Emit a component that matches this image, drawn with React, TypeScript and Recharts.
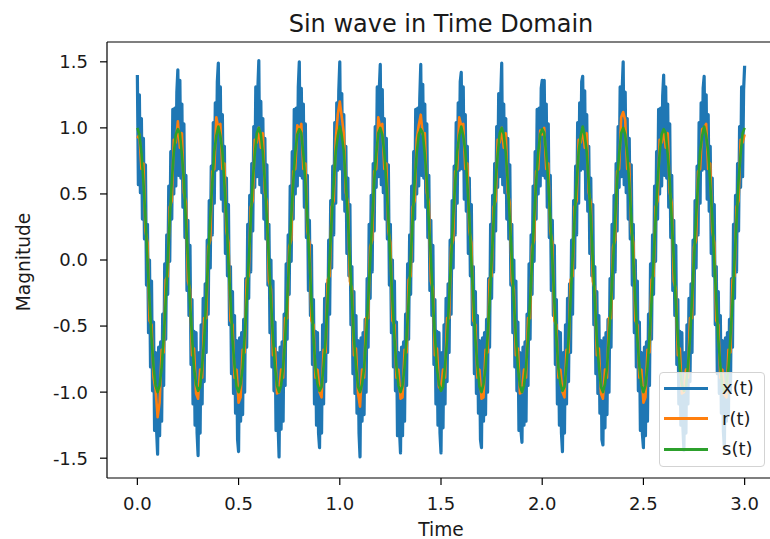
import { Legend, Line, LineChart, ReferenceLine, XAxis, YAxis } from 'recharts';

const FONT = '"DejaVu Sans", sans-serif';
const xTicks = [0, 0.5, 1, 1.5, 2, 2.5, 3];
const yTicks = [-1.5, -1, -0.5, 0, 0.5, 1, 1.5];
const xStep = 0.005;
const rsStep = 0.01;

// x(t): noisy measurement, one row per 0.2 s period (0.005 s samples)
const xSignal = [
  1.40, .57, 1.25, .51, 1.07, .31, .92, .16, .72, -.19, .27, -.55, .00, -.81, -.16, -.99, -.47, -1.29, -.70, -1.29, -1.47, -.66, -1.33, -.62, -1.22, -.41, -.95, -.03, -.60, .19, -.26, .56, -.01, .82, .31, 1.14, .50, 1.15, .56, 1.27,
  1.44, .64, 1.36, .62, 1.18, .40, 1.03, .17, .64, -.23, .30, -.42, .11, -.79, -.30, -1.09, -.54, -1.25, -.55, -1.31, -1.48, -.70, -1.31, -.49, -1.09, -.29, -.92, -.18, -.70, .15, -.41, .45, -.06, .71, .19, 1.04, .43, 1.19, .68, 1.35,
  1.49, .69, 1.31, .46, 1.10, .37, .86, .05, .62, -.12, .42, -.49, -.05, -.86, -.24, -1.01, -.42, -1.16, -.61, -1.36, -1.45, -.59, -1.22, -.55, -1.17, -.45, -1.00, -.14, -.66, .27, -.29, .49, -.09, .73, .22, 1.01, .55, 1.31, .63, 1.29,
  1.51, .57, 1.20, .51, 1.07, .31, .92, .16, .72, -.19, .27, -.55, .00, -.81, -.16, -.99, -.47, -1.29, -.70, -1.24, -1.49, -.66, -1.28, -.62, -1.22, -.41, -.95, -.03, -.60, .19, -.26, .56, -.01, .82, .31, 1.14, .50, 1.15, .56, 1.31,
  1.50, .64, 1.30, .62, 1.18, .40, 1.03, .17, .64, -.23, .30, -.42, .11, -.79, -.30, -1.09, -.54, -1.25, -.55, -1.31, -1.42, -.70, -1.31, -.49, -1.09, -.29, -.92, -.18, -.70, .15, -.41, .45, -.06, .71, .19, 1.04, .43, 1.19, .68, 1.28,
  1.50, .69, 1.26, .46, 1.10, .37, .86, .05, .62, -.12, .42, -.49, -.05, -.86, -.24, -1.01, -.42, -1.16, -.61, -1.31, -1.49, -.59, -1.22, -.55, -1.17, -.45, -1.00, -.14, -.66, .27, -.29, .49, -.09, .73, .22, 1.01, .55, 1.31, .63, 1.29,
  1.48, .57, 1.29, .51, 1.07, .31, .92, .16, .72, -.19, .27, -.55, .00, -.81, -.16, -.99, -.47, -1.33, -.70, -1.29, -1.46, -.66, -1.33, -.62, -1.22, -.41, -.95, -.03, -.60, .19, -.26, .56, -.01, .82, .31, 1.14, .50, 1.15, .56, 1.22,
  1.48, .64, 1.33, .62, 1.18, .40, 1.03, .17, .64, -.23, .30, -.42, .11, -.79, -.30, -1.09, -.54, -1.25, -.55, -1.31, -1.46, -.70, -1.27, -.49, -1.09, -.29, -.92, -.18, -.70, .15, -.41, .45, -.06, .71, .19, 1.04, .43, 1.19, .68, 1.35,
  1.42, .69, 1.31, .46, 1.10, .37, .86, .05, .62, -.12, .42, -.49, -.05, -.86, -.24, -1.01, -.42, -1.16, -.61, -1.36, -1.42, -.59, -1.22, -.55, -1.17, -.45, -1.00, -.14, -.66, .27, -.29, .49, -.09, .73, .22, 1.01, .55, 1.26, .63, 1.24,
  1.49, .57, 1.18, .51, 1.07, .31, .92, .16, .72, -.19, .27, -.55, .00, -.81, -.16, -.99, -.47, -1.29, -.70, -1.29, -1.38, -.66, -1.25, -.62, -1.22, -.41, -.95, -.03, -.60, .19, -.26, .56, -.01, .82, .31, 1.14, .50, 1.15, .56, 1.30,
  1.36, .64, 1.36, .62, 1.18, .40, 1.03, .17, .64, -.23, .30, -.42, .11, -.79, -.30, -1.09, -.54, -1.25, -.55, -1.31, -1.45, -.70, -1.31, -.49, -1.09, -.29, -.92, -.18, -.70, .15, -.41, .45, -.06, .71, .19, 1.04, .43, 1.19, .68, 1.35,
  1.39, .69, 1.28, .46, 1.10, .37, .86, .05, .62, -.12, .42, -.49, -.05, -.86, -.24, -1.01, -.42, -1.16, -.61, -1.36, -1.40, -.59, -1.27, -.55, -1.17, -.45, -1.00, -.14, -.66, .27, -.29, .49, -.09, .73, .22, 1.01, .55, 1.31, .63, 1.29,
  1.50, .57, 1.27, .51, 1.07, .31, .92, .16, .72, -.19, .27, -.55, .00, -.81, -.16, -.99, -.47, -1.29, -.70, -1.32, -1.42, -.66, -1.33, -.62, -1.22, -.41, -.95, -.03, -.60, .19, -.26, .56, -.01, .82, .31, 1.14, .50, 1.15, .56, 1.24,
  1.40, .64, 1.31, .62, 1.18, .40, 1.03, .17, .64, -.23, .30, -.42, .11, -.79, -.30, -1.09, -.54, -1.25, -.55, -1.27, -1.44, -.70, -1.31, -.49, -1.09, -.29, -.92, -.18, -.70, .15, -.41, .45, -.06, .71, .19, 1.04, .43, 1.19, .68, 1.30,
  1.39, .69, 1.25, .46, 1.10, .37, .86, .05, .62, -.12, .42, -.49, -.05, -.86, -.24, -1.01, -.42, -1.16, -.61, -1.30, -1.42, -.59, -1.22, -.55, -1.17, -.45, -1.00, -.14, -.66, .27, -.29, .49, -.09, .73, .22, 1.01, .55, 1.31, .63, 1.29,
  1.47,
];

// r(t): recovered signal (0.01 s samples)
const rSignal = [
  .92, .95, .69, .73, .22, .13, -.46, -.49, -.89, -.98, -1.19, -1.08, -.68, -.70, -.15, -.12, .40, .45, .91, .89,
  1.05, .85, .96, .51, .43, -.16, -.22, -.72, -.67, -1.01, -1.05, -.83, -.89, -.44, -.44, .10, .15, .67, .69, 1.08,
  1.00, 1.03, .69, .73, .22, .13, -.46, -.49, -.89, -.83, -1.08, -1.04, -.68, -.70, -.15, -.12, .40, .45, .91, .89,
  1.00, .85, .96, .51, .43, -.16, -.22, -.72, -.67, -1.01, -1.00, -.83, -.89, -.44, -.44, .10, .15, .67, .69, 1.02,
  .98, 1.03, .69, .73, .22, .13, -.46, -.49, -.89, -.83, -1.00, -1.04, -.68, -.70, -.15, -.12, .40, .45, .91, 1.10,
  1.20, 1.08, .96, .51, .43, -.16, -.22, -.72, -.67, -1.01, -1.11, -.83, -.89, -.44, -.44, .10, .15, .67, .69, 1.08,
  1.00, 1.03, .69, .73, .22, .13, -.46, -.49, -.89, -.83, -1.05, -1.04, -.68, -.70, -.15, -.12, .40, .45, .91, 1.02,
  1.10, .95, .96, .51, .43, -.16, -.22, -.72, -.67, -.96, -.98, -.83, -.89, -.44, -.44, .10, .15, .67, .69, 1.08,
  1.02, 1.03, .69, .73, .22, .13, -.46, -.49, -.89, -.83, -1.05, -1.04, -.68, -.70, -.15, -.12, .40, .45, .91, .89,
  1.00, .85, .96, .51, .43, -.16, -.22, -.72, -.67, -1.01, -1.00, -.83, -.89, -.44, -.44, .10, .15, .67, .69, .98,
  .95, 1.00, .69, .73, .22, .13, -.46, -.49, -.89, -.83, -1.00, -1.04, -.68, -.70, -.15, -.12, .40, .45, .91, .89,
  1.00, .85, .96, .51, .43, -.16, -.22, -.72, -.67, -1.01, -1.05, -.83, -.89, -.44, -.44, .10, .15, .67, .69, 1.08,
  1.12, 1.06, .69, .73, .22, .13, -.46, -.49, -.89, -.83, -1.08, -1.04, -.68, -.70, -.15, -.12, .40, .45, .91, .89,
  .98, .85, .96, .51, .43, -.16, -.22, -.72, -.67, -1.01, -1.00, -.83, -.89, -.44, -.44, .10, .15, .67, .69, .99,
  1.00, 1.03, .69, .73, .22, .13, -.46, -.49, -.89, -.83, -1.02, -1.04, -.68, -.70, -.15, -.12, .40, .45, .91, .89,
  .95,
];

// s(t): clean signal (0.01 s samples)
const sSignal = [
  1.00, .95, .81, .59, .31, .00, -.31, -.59, -.81, -.95, -1.00, -.95, -.81, -.59, -.31, .00, .31, .59, .81, .95,
  .99, .96, .80, .60, .30, .01, -.32, -.58, -.82, -.94, -.99, -.96, -.80, -.60, -.30, .01, .32, .58, .82, .94,
  1.01, .94, .82, .58, .32, -.01, -.30, -.60, -.80, -.96, -1.00, -.94, -.82, -.58, -.32, -.01, .30, .60, .80, .96,
  1.00, .95, .81, .59, .31, .00, -.31, -.59, -.81, -.95, -1.00, -.95, -.81, -.59, -.31, .00, .31, .59, .81, .95,
  .99, .96, .80, .60, .30, .01, -.32, -.58, -.82, -.94, -.99, -.96, -.80, -.60, -.30, .01, .32, .58, .82, .94,
  1.01, .94, .82, .58, .32, -.01, -.30, -.60, -.80, -.96, -1.00, -.94, -.82, -.58, -.32, -.01, .30, .60, .80, .96,
  1.00, .95, .81, .59, .31, .00, -.31, -.59, -.81, -.95, -1.00, -.95, -.81, -.59, -.31, .00, .31, .59, .81, .95,
  .99, .96, .80, .60, .30, .01, -.32, -.58, -.82, -.94, -.99, -.96, -.80, -.60, -.30, .01, .32, .58, .82, .94,
  1.01, .94, .82, .58, .32, -.01, -.30, -.60, -.80, -.96, -1.00, -.94, -.82, -.58, -.32, -.01, .30, .60, .80, .96,
  1.00, .95, .81, .59, .31, .00, -.31, -.59, -.81, -.95, -1.00, -.95, -.81, -.59, -.31, .00, .31, .59, .81, .95,
  .99, .96, .80, .60, .30, .01, -.32, -.58, -.82, -.94, -.99, -.96, -.80, -.60, -.30, .01, .32, .58, .82, .94,
  1.01, .94, .82, .58, .32, -.01, -.30, -.60, -.80, -.96, -1.00, -.94, -.82, -.58, -.32, -.01, .30, .60, .80, .96,
  1.00, .95, .81, .59, .31, .00, -.31, -.59, -.81, -.95, -1.00, -.95, -.81, -.59, -.31, .00, .31, .59, .81, .95,
  .99, .96, .80, .60, .30, .01, -.32, -.58, -.82, -.94, -.99, -.96, -.80, -.60, -.30, .01, .32, .58, .82, .94,
  1.01, .94, .82, .58, .32, -.01, -.30, -.60, -.80, -.96, -1.00, -.94, -.82, -.58, -.32, -.01, .30, .60, .80, .96,
  1.00,
];

const toRows = (values: number[], step: number) =>
  values.map((v, i) => ({ t: Number((i * step).toFixed(3)), v }));

const series = [
  { key: 'x', name: 'x(t)', color: '#1f77b4', width: 3.2, rows: toRows(xSignal, xStep) },
  { key: 'r', name: 'r(t)', color: '#ff7f0e', width: 2.6, rows: toRows(rSignal, rsStep) },
  { key: 's', name: 's(t)', color: '#2ca02c', width: 2.6, rows: toRows(sSignal, rsStep) },
];

const tickStyle = { fill: '#1a1a1a', fontSize: 18, fontFamily: FONT };

function LegendBox() {
  return (
    <div
      style={{
        width: 106,
        height: 95,
        boxSizing: 'border-box',
        background: 'rgba(255,255,255,0.8)',
        border: '1px solid #d3d3d3',
        borderRadius: 4,
        fontFamily: FONT,
        fontSize: 18,
        color: '#1a1a1a',
      }}
    >
      {series.map((s) => (
        <div key={s.key} style={{ display: 'flex', alignItems: 'center', height: 30.5 }}>
          <span style={{ marginLeft: 4, width: 44, height: 3, background: s.color }} />
          <span style={{ marginLeft: 14, lineHeight: 1 }}>{s.name}</span>
        </div>
      ))}
    </div>
  );
}

export default function App() {
  return (
    <div
      style={{
        position: 'fixed',
        left: 0,
        top: 0,
        width: 770,
        height: 539,
        overflow: 'hidden',
        background: '#fff',
      }}
    >
      <LineChart width={790} height={539} margin={{ top: 42, right: 15, bottom: 31, left: 47 }}>
        <XAxis
          dataKey="t"
          type="number"
          domain={[-0.15, 3.15]}
          ticks={xTicks}
          tickFormatter={(v: number) => v.toFixed(1)}
          allowDataOverflow
          height={30}
          tick={tickStyle}
          tickSize={7}
          tickMargin={12}
          axisLine={{ stroke: '#000', strokeWidth: 1.2 }}
          tickLine={{ stroke: '#000', strokeWidth: 1.2 }}
        />
        <YAxis
          type="number"
          domain={[-1.65, 1.65]}
          ticks={yTicks}
          tickFormatter={(v: number) => v.toFixed(1)}
          allowDataOverflow
          width={60}
          tick={tickStyle}
          tickSize={7}
          tickMargin={12}
          axisLine={{ stroke: '#000', strokeWidth: 1.2 }}
          tickLine={{ stroke: '#000', strokeWidth: 1.2 }}
        />
        <ReferenceLine y={1.65} stroke="#000" strokeWidth={1.2} ifOverflow="visible" />
        {series.map((s) => (
          <Line
            key={s.key}
            data={s.rows}
            type="linear"
            dataKey="v"
            name={s.name}
            stroke={s.color}
            strokeWidth={s.width}
            strokeLinejoin="round"
            dot={false}
            activeDot={false}
            isAnimationActive={false}
          />
        ))}
        <Legend
          layout="vertical"
          align="center"
          verticalAlign="middle"
          wrapperStyle={{ left: 659, top: 372, width: 'auto', height: 'auto' }}
          content={() => <LegendBox />}
        />
      </LineChart>
      <div
        style={{
          position: 'absolute',
          left: 441,
          top: 12,
          transform: 'translateX(-50%)',
          fontFamily: FONT,
          fontSize: 24,
          lineHeight: 1,
          whiteSpace: 'nowrap',
          color: '#1a1a1a',
        }}
      >
        Sin wave in Time Domain
      </div>
      <div
        style={{
          position: 'absolute',
          left: 441,
          top: 521,
          transform: 'translateX(-50%)',
          fontFamily: FONT,
          fontSize: 18.6,
          lineHeight: 1,
          whiteSpace: 'nowrap',
          color: '#1a1a1a',
        }}
      >
        Time
      </div>
      <div
        style={{
          position: 'absolute',
          left: 24,
          top: 262,
          transform: 'translate(-50%, -50%) rotate(-90deg)',
          fontFamily: FONT,
          fontSize: 18.6,
          lineHeight: 1,
          whiteSpace: 'nowrap',
          color: '#1a1a1a',
        }}
      >
        Magnitude
      </div>
    </div>
  );
}
